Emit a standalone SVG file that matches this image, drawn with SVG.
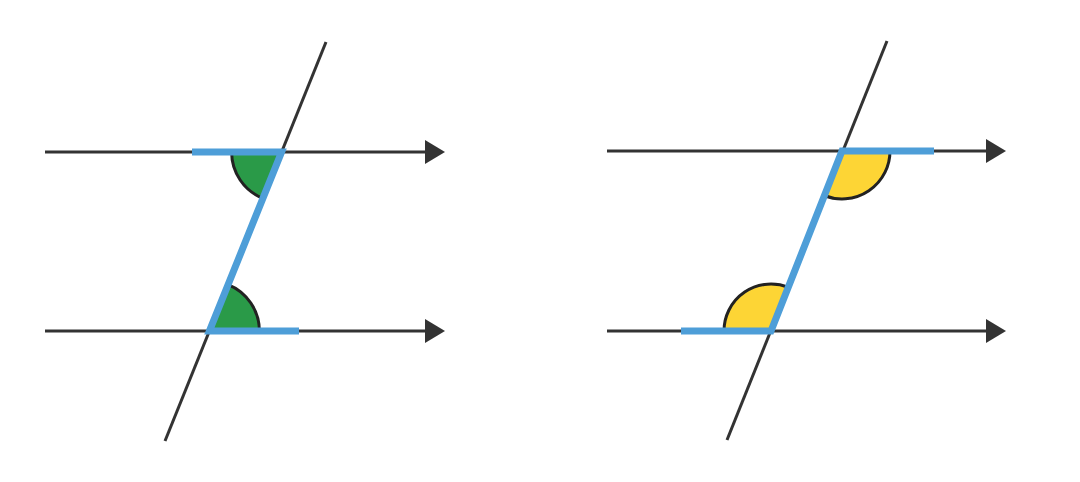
<svg xmlns="http://www.w3.org/2000/svg" width="1080" height="482" viewBox="0 0 1080 482">
<defs>
<marker id="arr" viewBox="0 0 20 24" markerWidth="20" markerHeight="24" refX="2" refY="12" orient="auto" markerUnits="userSpaceOnUse">
<path d="M0,0 L20,12 L0,24 Z" fill="#333333"/>
</marker>
<style>
.ln{stroke:#333333;stroke-width:3;fill:none}
.ax{stroke:#333333;stroke-width:3;fill:none;marker-end:url(#arr)}
.arc{stroke:#222222;stroke-width:3;fill:none}
.bl{stroke:#4e9ed8;stroke-width:7;fill:none;stroke-linejoin:miter;stroke-linecap:butt}
.g{fill:#2a9a48;stroke:none}
.y{fill:#fdd535;stroke:none}
</style>
</defs>
<rect width="1080" height="482" fill="#ffffff"/>
<g id="connectors">
<line class="ax" x1="45" y1="152" x2="427" y2="152"/>
<line class="ax" x1="45" y1="331" x2="427" y2="331"/>
<line class="ln" x1="326" y1="42" x2="165" y2="441"/>
<line class="ax" x1="607" y1="151" x2="988" y2="151"/>
<line class="ax" x1="607" y1="331" x2="988" y2="331"/>
<line class="ln" x1="887" y1="41" x2="727" y2="440"/>
</g>
<g id="left-angles">
<path class="g" d="M281.6,152 L231.6,152 A50,50 0 0 0 262.9,198.4 Z"/>
<path class="arc" d="M231.6,152 A50,50 0 0 0 262.9,198.4"/>
<path class="g" d="M209.4,331 L259.4,331 A50,50 0 0 0 228.1,284.6 Z"/>
<path class="arc" d="M259.4,331 A50,50 0 0 0 228.1,284.6"/>
</g>
<g id="right-angles">
<path class="y" d="M842,151 L890,151 A48,48 0 0 1 824.1,195.5 Z"/>
<path class="arc" d="M890,151 A48,48 0 0 1 824.1,195.5"/>
<path class="y" d="M771,331 L724,331 A47,47 0 0 1 788.5,287.4 Z"/>
<path class="arc" d="M724,331 A47,47 0 0 1 788.5,287.4"/>
</g>
<g id="left-z">
<path class="bl" d="M192,152 L281.6,152 L209.4,331 L299,331"/>
</g>
<g id="right-z">
<path class="bl" d="M934,151 L842,151 L771,331 L681,331"/>
</g>
</svg>
